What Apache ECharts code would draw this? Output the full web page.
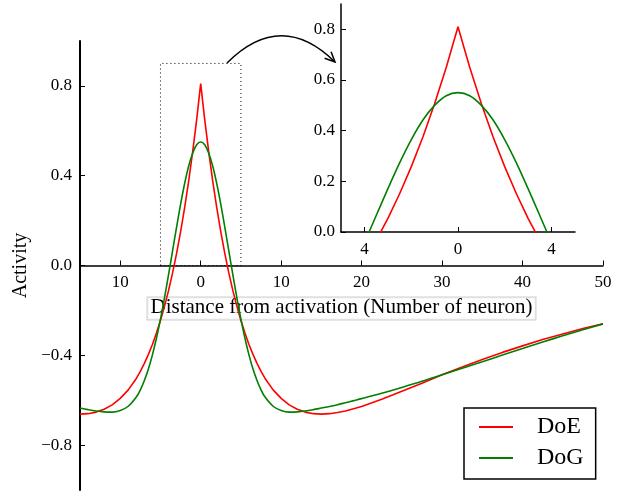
<!DOCTYPE html>
<html>
<head>
<meta charset="utf-8">
<script src="https://cdn.jsdelivr.net/npm/echarts@6/dist/echarts.min.js"></script>
<style>
  html, body { margin: 0; padding: 0; background: #fff; }
  #chart { width: 627px; height: 493px; }
</style>
</head>
<body>
<div id="chart"></div>
<script>
const xs = [-15, -14, -13, -12, -11, -10, -9, -8,
  -7.5, -7, -6.5, -6, -5.5, -5, -4.5, -4, -3.5, -3, -2.5, -2, -1.5, -1, -0.5,
  0,
  0.5, 1, 1.5, 2, 2.5, 3, 3.5, 4, 4.5, 5, 5.5, 6, 6.5, 7, 7.5,
  8, 9, 10, 11, 12, 13, 14, 15, 16, 17, 18, 19, 20,
  22.5, 25, 27.5, 30, 32.5, 35, 37.5, 40, 42.5, 45, 47.5, 50]

const doe = [-0.662, -0.660, -0.653, -0.640, -0.621, -0.592, -0.554, -0.503,
  -0.472, -0.436, -0.396, -0.352, -0.301, -0.245, -0.182, -0.112, -0.034, 0.053, 0.150, 0.257, 0.375, 0.506, 0.650,
  0.810,
  0.650, 0.506, 0.375, 0.257, 0.150, 0.053, -0.034, -0.112, -0.182, -0.245, -0.301, -0.352, -0.396, -0.436, -0.472,
  -0.503, -0.554, -0.592, -0.621, -0.640, -0.653, -0.660, -0.662, -0.660, -0.655, -0.648, -0.638, -0.628,
  -0.596, -0.560, -0.524, -0.487, -0.452, -0.419, -0.387, -0.358, -0.330, -0.305, -0.281, -0.260]

const dog = [-0.635, -0.642, -0.648, -0.652, -0.653, -0.646, -0.627, -0.586,
  -0.554, -0.512, -0.461, -0.398, -0.324, -0.239, -0.144, -0.042, 0.064, 0.170, 0.272, 0.364, 0.442, 0.500, 0.538,
  0.550,
  0.538, 0.500, 0.442, 0.364, 0.272, 0.170, 0.064, -0.042, -0.144, -0.239, -0.324, -0.398, -0.461, -0.512, -0.554,
  -0.586, -0.627, -0.646, -0.653, -0.652, -0.648, -0.642, -0.635, -0.628, -0.620, -0.611, -0.602, -0.593,
  -0.569, -0.543, -0.516, -0.487, -0.458, -0.429, -0.399, -0.370, -0.341, -0.313, -0.286, -0.260]

// tick values and the labels as printed in the figure (minus signs lost on x)
const mainXTicks = [-10, 0, 10, 20, 30, 40, 50]
const mainXLabels = ['10', '0', '10', '20', '30', '40', '50']
const mainYTicks = [-0.8, -0.4, 0, 0.4, 0.8]
const mainYLabels = ['\u22120.8', '\u22120.4', '0.0', '0.4', '0.8']
const insetXTicks = [-4, 0, 4]
const insetXLabels = ['4', '0', '4']
const insetYTicks = [0, 0.2, 0.4, 0.6, 0.8]
const insetYLabels = ['0.0', '0.2', '0.4', '0.6', '0.8']

// zoom window drawn as a dotted box on the main plot
const zoomBox = [[-5, 0], [5, 0.9]]

const FONT = '"Liberation Serif", "DejaVu Serif", serif'
const MAIN_TOP = 41
const MAIN_H = 449

function pairs(ys) {
  return xs.map(function (x, i) { return [x, ys[i]] })
}

function labelFrom(ticks, labels) {
  return function (v) {
    const i = ticks.findIndex(function (t) { return Math.abs(t - v) < 1e-6 })
    return i >= 0 ? labels[i] : ''
  }
}

function axisBase() {
  return {
    type: 'value',
    splitLine: { show: false },
    axisLine: { show: true, onZero: false, lineStyle: { color: '#000', width: 1.5 } },
    axisTick: { show: true, inside: true, length: 5, lineStyle: { color: '#000', width: 1 } },
    axisLabel: { color: '#000', fontFamily: FONT, fontSize: 17 }
  }
}

const chart = echarts.init(document.getElementById('chart'))

// y range is -1..1, so the x axis sits half the grid height above the bottom
const mainX = axisBase()
Object.assign(mainX, {
  gridIndex: 0, min: -15, max: 50, z: 3,
  position: 'bottom', offset: -MAIN_H / 2,
  name: 'Distance from activation (Number of neuron)',
  nameLocation: 'middle', nameGap: 30,
  nameTextStyle: {
    color: '#000', fontFamily: FONT, fontSize: 21,
    backgroundColor: 'rgba(255,255,255,0.7)', borderColor: '#d0d0d0', borderWidth: 1,
    padding: [0, 3, 1, 3]
  }
})
mainX.axisTick.customValues = mainXTicks
mainX.axisLabel = Object.assign({}, mainX.axisLabel, {
  customValues: mainXTicks, margin: 9, formatter: labelFrom(mainXTicks, mainXLabels)
})

const mainY = axisBase()
Object.assign(mainY, {
  gridIndex: 0, min: -1, max: 1,
  name: 'Activity', nameLocation: 'middle', nameGap: 38, nameRotate: 90,
  nameTextStyle: { color: '#000', fontFamily: FONT, fontSize: 20 }
})
mainY.axisLine.lineStyle.width = 2
mainY.axisTick.customValues = mainYTicks
mainY.axisLabel = Object.assign({}, mainY.axisLabel, {
  customValues: mainYTicks, margin: 8, formatter: labelFrom(mainYTicks, mainYLabels)
})

const insetX = axisBase()
Object.assign(insetX, { gridIndex: 1, min: -5, max: 5 })
insetX.axisTick.customValues = insetXTicks
insetX.axisLabel = Object.assign({}, insetX.axisLabel, {
  customValues: insetXTicks, margin: 9, formatter: labelFrom(insetXTicks, insetXLabels)
})

const insetY = axisBase()
Object.assign(insetY, { gridIndex: 1, min: 0, max: 0.9 })
insetY.axisTick.customValues = insetYTicks
insetY.axisLabel = Object.assign({}, insetY.axisLabel, {
  customValues: insetYTicks, margin: 6, formatter: labelFrom(insetYTicks, insetYLabels)
})

function curve(name, ys, color, idx, smooth) {
  return {
    name: name, type: 'line', data: pairs(ys),
    xAxisIndex: idx, yAxisIndex: idx,
    showSymbol: false, symbol: 'none', smooth: smooth,
    lineStyle: { color: color, width: 1.6 }, itemStyle: { color: color },
    animation: false, silent: true
  }
}

const doeMain = curve('DoE', doe, '#ff0000', 0, false)
doeMain.markArea = {
  silent: true,
  itemStyle: { color: 'rgba(0,0,0,0)', borderColor: '#000', borderWidth: 1, borderType: [1, 3] },
  data: [[{ coord: zoomBox[0] }, { coord: zoomBox[1] }]]
}

chart.setOption({
  animation: false,
  grid: [
    { left: 80, right: 24, top: MAIN_TOP, height: MAIN_H, outerBoundsMode: 'none', containLabel: false },
    { left: 341, right: 52, top: 4, height: 228, outerBoundsMode: 'none', containLabel: false }
  ],
  xAxis: [mainX, insetX],
  yAxis: [mainY, insetY],
  legend: {
    data: ['DoE', 'DoG'],
    orient: 'vertical', left: 464, top: 408,
    icon: 'rect', itemWidth: 34, itemHeight: 2, itemGap: 7,
    padding: [7, 12, 9, 15],
    borderColor: '#000', borderWidth: 1.5, backgroundColor: '#fff',
    textStyle: { color: '#000', fontFamily: FONT, fontSize: 24, padding: [0, 0, 0, 19] },
    selectedMode: false
  },
  series: [
    doeMain,
    curve('DoG', dog, '#008000', 0, 0.35),
    curve('DoE', doe, '#ff0000', 1, false),
    curve('DoG', dog, '#008000', 1, 0.35)
  ],
  // curved annotation arrow from the zoom box to the inset
  graphic: [
    {
      type: 'bezierCurve', silent: true,
      shape: { x1: 227, y1: 63, cpx1: 281, cpy1: 9, x2: 335, y2: 62 },
      style: { stroke: '#000', lineWidth: 1.5, fill: null }
    },
    {
      type: 'polyline', silent: true,
      shape: { points: [[324.6, 58.3], [335, 62], [331.1, 51.7]] },
      style: { stroke: '#000', lineWidth: 1.5, fill: null }
    }
  ]
})
</script>
</body>
</html>
